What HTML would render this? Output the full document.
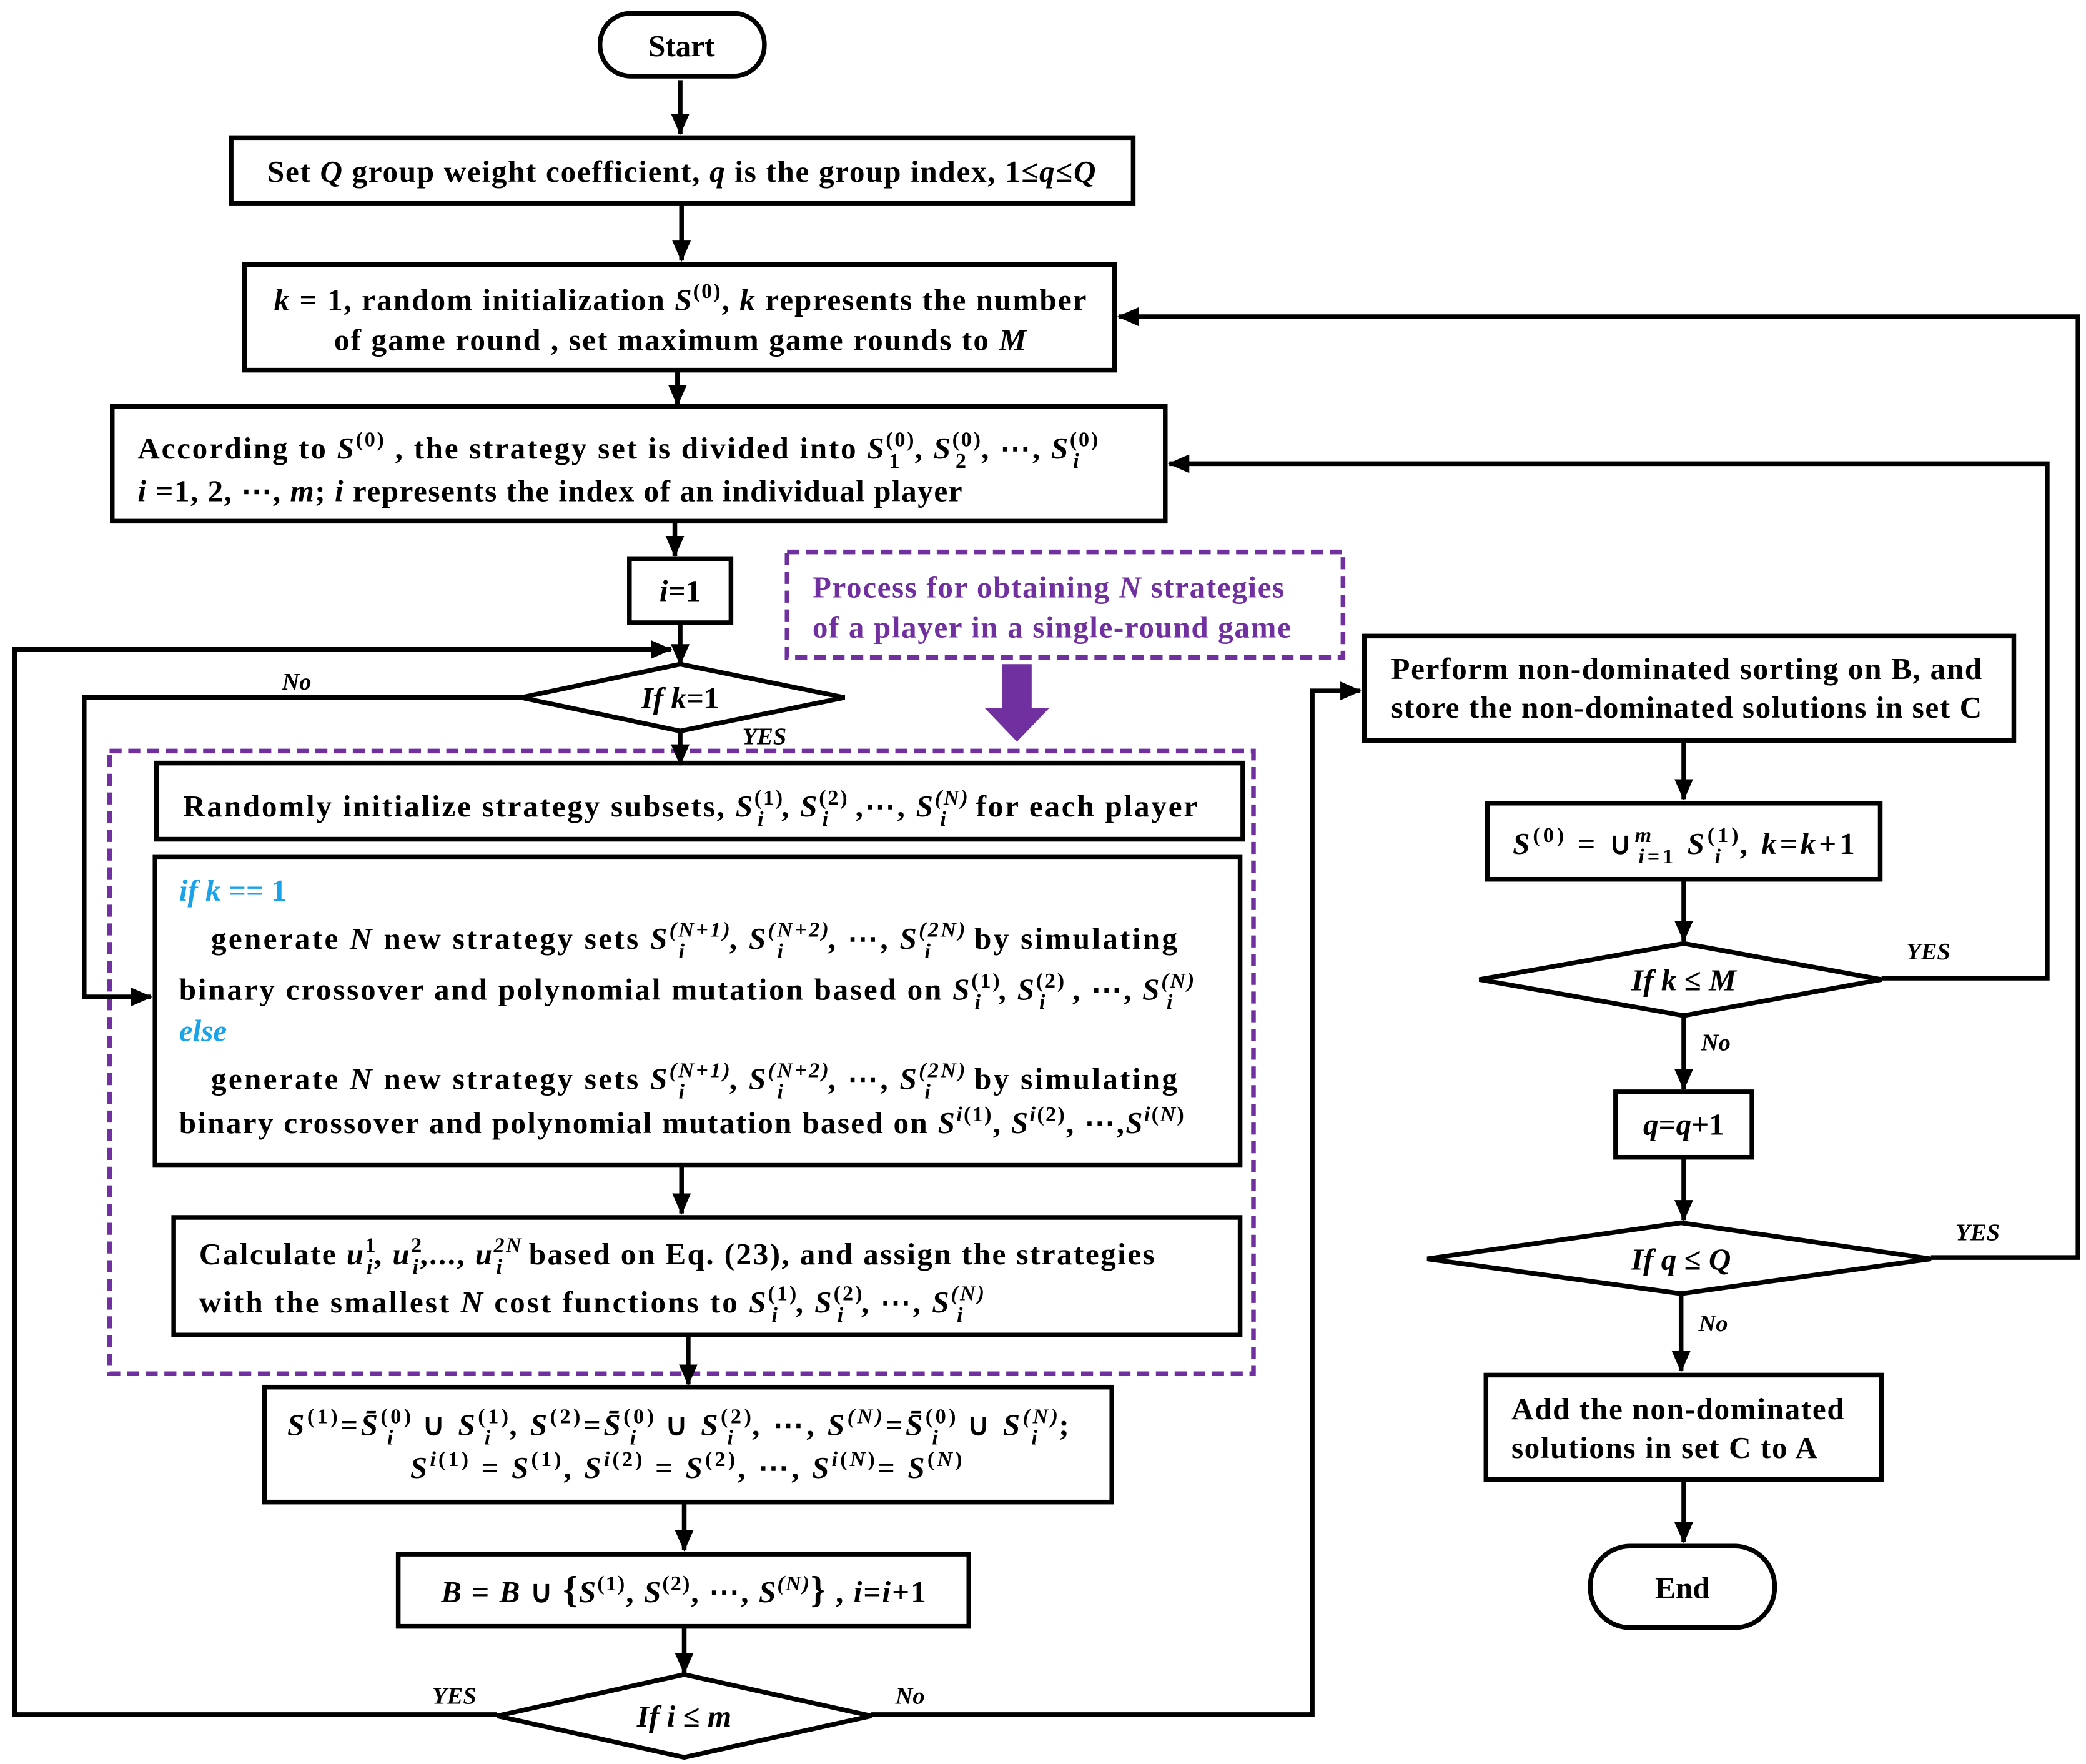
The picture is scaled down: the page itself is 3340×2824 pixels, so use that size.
<!DOCTYPE html>
<html><head><meta charset="utf-8"><style>
html,body{margin:0;padding:0;background:#fff}
svg{display:block}
text{font-family:"Liberation Serif",serif;font-weight:bold;font-size:23px;fill:#000}
.i{font-style:italic}
.b{fill:#1aa3e8;font-style:italic}
.p{fill:#7030a0}
.s{font-size:16px}
.lab{font-size:18px;font-style:italic}
</style></head><body>
<svg width="3340" height="2824" viewBox="0 0 1561 1320" preserveAspectRatio="none" xmlns="http://www.w3.org/2000/svg">
<defs><marker id="a2" markerWidth="16" markerHeight="14" refX="15" refY="7" orient="auto" markerUnits="userSpaceOnUse"><path d="M0,0 L16,7 L0,14 z" fill="#000"/></marker></defs>
<g fill="none" stroke="#000" stroke-width="3.5">
<rect x="449" y="10" width="123" height="47" rx="23"/>
<rect x="173" y="103" width="675" height="49"/>
<rect x="183" y="198" width="651" height="79"/>
<rect x="84" y="304" width="788" height="86"/>
<rect x="471" y="418" width="76" height="48"/>
<polygon points="390,522 509,497 632,522 509,547"/>
<rect x="117" y="571" width="813" height="57"/>
<rect x="116" y="641" width="812" height="231"/>
<rect x="130" y="911" width="798" height="88"/>
<rect x="198" y="1038" width="634" height="86"/>
<rect x="298" y="1163" width="427" height="54"/>
<polygon points="372,1284 512,1253 652,1284 512,1315"/>
<rect x="1021" y="476" width="486" height="78"/>
<rect x="1113" y="601" width="294" height="57"/>
<polygon points="1107,733 1260,706 1408,733 1260,760"/>
<rect x="1209" y="817" width="102" height="49"/>
<polygon points="1068,942 1258,915 1445,942 1258,968"/>
<rect x="1112" y="1029" width="296" height="78"/>
<rect x="1190" y="1157" width="138" height="61" rx="30"/>
</g>
<g fill="none" stroke="#7030a0" stroke-width="3.5" stroke-dasharray="9,5">
<rect x="589" y="413" width="416" height="79"/>
<rect x="82" y="562" width="856" height="466"/>
</g>
<polygon points="750,497 772,497 772,530 785,530 761,555 737,530 750,530" fill="#7030a0"/>
<g fill="none" stroke="#000" stroke-width="3.5" marker-end="url(#a2)">
<path d="M509,60 V100"/><path d="M510,152 V195"/><path d="M507,277 V303"/>
<path d="M505,390 V416"/><path d="M509,466 V497"/>
<path d="M390,522 H63 V746 H113"/>
<path d="M509,547 V572"/><path d="M510,872 V908"/><path d="M515,999 V1036"/>
<path d="M512,1124 V1160"/><path d="M512,1217 V1252"/>
<path d="M372,1283 H11 V486 H502"/>
<path d="M652,1283 H982 V517 H1018"/>
<path d="M1260,554 V598"/><path d="M1260,658 V704"/>
<path d="M1408,732 H1532 V347 H875"/>
<path d="M1260,760 V815"/><path d="M1260,866 V913"/>
<path d="M1445,941 H1555 V237 H837"/>
<path d="M1258,968 V1026"/><path d="M1260,1107 V1154"/>
</g>
<text x="510" y="42" text-anchor="middle">Start</text>
<text x="200" y="136" textLength="620" lengthAdjust="spacing">Set <tspan class="i">Q</tspan> group weight coefficient, <tspan class="i">q</tspan> is the group index, 1≤<tspan class="i">q</tspan>≤<tspan class="i">Q</tspan></text>
<text x="205" y="232" textLength="608" lengthAdjust="spacing"><tspan class="i">k</tspan> = 1, random initialization <tspan class="i">S</tspan><tspan class="s" dy="-9">(0)</tspan><tspan dy="9">,  </tspan><tspan class="i">k</tspan> represents the number</text>
<text x="250" y="262" textLength="518" lengthAdjust="spacing">of  game round , set maximum game rounds to <tspan class="i">M</tspan></text>
<text x="103" y="343" textLength="720" lengthAdjust="spacing">According to <tspan class="i">S</tspan><tspan class="s" dy="-9">(0)</tspan><tspan dy="9"> , the strategy set is divided into  </tspan><tspan class="i">S</tspan><tspan class="s" dy="-9">(0)</tspan><tspan class="s" dx="-20" dy="16">1</tspan><tspan dx="10" dy="-7">,  </tspan><tspan class="i">S</tspan><tspan class="s" dy="-9">(0)</tspan><tspan class="s" dx="-20" dy="16">2</tspan><tspan dx="10" dy="-7">, ⋯,  </tspan><tspan class="i">S</tspan><tspan class="s" dy="-9">(0)</tspan><tspan class="s i" dx="-20" dy="16">i</tspan></text>
<text x="103" y="375" textLength="617" lengthAdjust="spacing"><tspan class="i">i</tspan> =1, 2, ⋯, <tspan class="i">m</tspan>; <tspan class="i">i</tspan> represents the index of an individual player</text>
<text x="509" y="450" text-anchor="middle"><tspan class="i">i</tspan>=1</text>
<text x="509" y="530" text-anchor="middle" class="i">If <tspan>k</tspan><tspan font-style="normal">=1</tspan></text>
<text x="222" y="516" class="lab" text-anchor="middle">No</text>
<text x="572" y="557" class="lab" text-anchor="middle">YES</text>
<text x="608" y="447" class="p" textLength="353" lengthAdjust="spacing">Process for obtaining <tspan class="i">N</tspan> strategies</text>
<text x="608" y="477" class="p" textLength="358" lengthAdjust="spacing">of a player in a single-round game</text>
<text x="137" y="611" textLength="759" lengthAdjust="spacing">Randomly initialize strategy subsets,  <tspan class="i">S</tspan><tspan class="s" dy="-9">(1)</tspan><tspan class="s i" dx="-20" dy="16">i</tspan><tspan dx="12" dy="-7">,  </tspan><tspan class="i">S</tspan><tspan class="s" dy="-9">(2)</tspan><tspan class="s i" dx="-20" dy="16">i</tspan><tspan dx="12" dy="-7"> ,⋯,  </tspan><tspan class="i">S</tspan><tspan class="s i" dy="-9">(N)</tspan><tspan class="s i" dx="-22" dy="16">i</tspan><tspan dx="14" dy="-7">  for each player</tspan></text>
<text x="134" y="674" class="b">if  k <tspan font-style="normal">== 1</tspan></text>
<text x="158" y="710" textLength="723" lengthAdjust="spacing">generate <tspan class="i">N</tspan> new strategy sets  <tspan class="i">S</tspan><tspan class="s i" dy="-9">(N+1)</tspan><tspan class="s i" dx="-40" dy="16">i</tspan><tspan dx="32" dy="-7">,  </tspan><tspan class="i">S</tspan><tspan class="s i" dy="-9">(N+2)</tspan><tspan class="s i" dx="-40" dy="16">i</tspan><tspan dx="32" dy="-7">, ⋯,  </tspan><tspan class="i">S</tspan><tspan class="s i" dy="-9">(2N)</tspan><tspan class="s i" dx="-32" dy="16">i</tspan><tspan dx="24" dy="-7">  by simulating</tspan></text>
<text x="134" y="748" textLength="761" lengthAdjust="spacing">binary crossover and polynomial mutation based on  <tspan class="i">S</tspan><tspan class="s" dy="-9">(1)</tspan><tspan class="s i" dx="-20" dy="16">i</tspan><tspan dx="12" dy="-7">,  </tspan><tspan class="i">S</tspan><tspan class="s" dy="-9">(2)</tspan><tspan class="s i" dx="-20" dy="16">i</tspan><tspan dx="12" dy="-7"> , ⋯,  </tspan><tspan class="i">S</tspan><tspan class="s i" dy="-9">(N)</tspan><tspan class="s i" dx="-22" dy="16">i</tspan></text>
<text x="134" y="779" class="b">else</text>
<text x="158" y="815" textLength="723" lengthAdjust="spacing">generate <tspan class="i">N</tspan> new strategy sets  <tspan class="i">S</tspan><tspan class="s i" dy="-9">(N+1)</tspan><tspan class="s i" dx="-40" dy="16">i</tspan><tspan dx="32" dy="-7">,  </tspan><tspan class="i">S</tspan><tspan class="s i" dy="-9">(N+2)</tspan><tspan class="s i" dx="-40" dy="16">i</tspan><tspan dx="32" dy="-7">, ⋯,  </tspan><tspan class="i">S</tspan><tspan class="s i" dy="-9">(2N)</tspan><tspan class="s i" dx="-32" dy="16">i</tspan><tspan dx="24" dy="-7">  by simulating</tspan></text>
<text x="134" y="848" textLength="752" lengthAdjust="spacing">binary crossover and polynomial mutation based on <tspan class="i">S</tspan><tspan class="s" dy="-9"><tspan class="i">i</tspan>(1)</tspan><tspan dy="9">, </tspan><tspan class="i">S</tspan><tspan class="s" dy="-9"><tspan class="i">i</tspan>(2)</tspan><tspan dy="9">, ⋯,</tspan><tspan class="i">S</tspan><tspan class="s" dy="-9"><tspan class="i">i</tspan>(<tspan class="i">N</tspan>)</tspan></text>
<text x="149" y="946" textLength="715" lengthAdjust="spacing">Calculate <tspan class="i">u</tspan><tspan class="s" dy="-9">1</tspan><tspan class="s i" dx="-8" dy="16">i</tspan><tspan dy="-7">, </tspan><tspan class="i">u</tspan><tspan class="s" dy="-9">2</tspan><tspan class="s i" dx="-8" dy="16">i</tspan><tspan dy="-7">,..., </tspan><tspan class="i">u</tspan><tspan class="s i" dy="-9">2N</tspan><tspan class="s i" dx="-20" dy="16">i</tspan><tspan dx="12" dy="-7">  based on Eq. (23), and assign the strategies</tspan></text>
<text x="149" y="982" textLength="589" lengthAdjust="spacing">with the smallest <tspan class="i">N</tspan> cost functions to  <tspan class="i">S</tspan><tspan class="s" dy="-9">(1)</tspan><tspan class="s i" dx="-20" dy="16">i</tspan><tspan dx="12" dy="-7">,  </tspan><tspan class="i">S</tspan><tspan class="s" dy="-9">(2)</tspan><tspan class="s i" dx="-20" dy="16">i</tspan><tspan dx="12" dy="-7">, ⋯,  </tspan><tspan class="i">S</tspan><tspan class="s i" dy="-9">(N)</tspan><tspan class="s i" dx="-22" dy="16">i</tspan></text>
<text x="215" y="1074" textLength="585" lengthAdjust="spacing"><tspan class="i">S</tspan><tspan class="s" dy="-9">(1)</tspan><tspan dy="9">=</tspan><tspan class="i">S̄</tspan><tspan class="s" dy="-9">(0)</tspan><tspan class="s i" dx="-20" dy="16">i</tspan><tspan dx="12" dy="-7"> ∪  </tspan><tspan class="i">S</tspan><tspan class="s" dy="-9">(1)</tspan><tspan class="s i" dx="-20" dy="16">i</tspan><tspan dx="12" dy="-7">, </tspan><tspan class="i">S</tspan><tspan class="s" dy="-9">(2)</tspan><tspan dy="9">=</tspan><tspan class="i">S̄</tspan><tspan class="s" dy="-9">(0)</tspan><tspan class="s i" dx="-20" dy="16">i</tspan><tspan dx="12" dy="-7"> ∪  </tspan><tspan class="i">S</tspan><tspan class="s" dy="-9">(2)</tspan><tspan class="s i" dx="-20" dy="16">i</tspan><tspan dx="12" dy="-7">, ⋯, </tspan><tspan class="i">S</tspan><tspan class="s i" dy="-9">(N)</tspan><tspan dy="9">=</tspan><tspan class="i">S̄</tspan><tspan class="s" dy="-9">(0)</tspan><tspan class="s i" dx="-20" dy="16">i</tspan><tspan dx="12" dy="-7"> ∪  </tspan><tspan class="i">S</tspan><tspan class="s i" dy="-9">(N)</tspan><tspan class="s i" dx="-22" dy="16">i</tspan><tspan dx="14" dy="-7">;</tspan></text>
<text x="307" y="1106" textLength="413" lengthAdjust="spacing"><tspan class="i">S</tspan><tspan class="s" dy="-9"><tspan class="i">i</tspan>(1)</tspan><tspan dy="9"> = </tspan><tspan class="i">S</tspan><tspan class="s" dy="-9">(1)</tspan><tspan dy="9">, </tspan><tspan class="i">S</tspan><tspan class="s" dy="-9"><tspan class="i">i</tspan>(2)</tspan><tspan dy="9"> = </tspan><tspan class="i">S</tspan><tspan class="s" dy="-9">(2)</tspan><tspan dy="9">, ⋯, </tspan><tspan class="i">S</tspan><tspan class="s" dy="-9"><tspan class="i">i</tspan>(<tspan class="i">N</tspan>)</tspan><tspan dy="9">= </tspan><tspan class="i">S</tspan><tspan class="s" dy="-9">(<tspan class="i">N</tspan>)</tspan></text>
<text x="330" y="1199" textLength="363" lengthAdjust="spacing"><tspan class="i">B</tspan>  = <tspan class="i">B</tspan> ∪ <tspan font-size="28">{</tspan><tspan class="i">S</tspan><tspan class="s" dy="-9">(1)</tspan><tspan dy="9">, </tspan><tspan class="i">S</tspan><tspan class="s" dy="-9">(2)</tspan><tspan dy="9">, ⋯, </tspan><tspan class="i">S</tspan><tspan class="s i" dy="-9">(N)</tspan><tspan dy="9" font-size="28">}</tspan> , <tspan class="i">i</tspan>=<tspan class="i">i</tspan>+1</text>
<text x="512" y="1292" text-anchor="middle" class="i">If  i <tspan font-style="normal">≤</tspan> m</text>
<text x="340" y="1275" class="lab" text-anchor="middle">YES</text>
<text x="681" y="1275" class="lab" text-anchor="middle">No</text>
<text x="1041" y="508" textLength="442" lengthAdjust="spacing">Perform non-dominated sorting on B, and</text>
<text x="1041" y="537" textLength="442" lengthAdjust="spacing">store the non-dominated solutions in set C</text>
<text x="1132" y="639" textLength="256" lengthAdjust="spacing"><tspan class="i">S</tspan><tspan class="s" dy="-9">(0)</tspan><tspan dy="9"> = ∪</tspan><tspan class="s i" dy="-9">m</tspan><tspan class="s" dx="-12" dy="16"><tspan class="i">i</tspan>=1</tspan><tspan dy="-7"> </tspan><tspan class="i">S</tspan><tspan class="s" dy="-9">(1)</tspan><tspan class="s i" dx="-20" dy="16">i</tspan><tspan dx="12" dy="-7">,   </tspan><tspan class="i">k</tspan>=<tspan class="i">k</tspan>+1</text>
<text x="1260" y="741" text-anchor="middle" class="i">If  k <tspan font-style="normal">≤</tspan> M</text>
<text x="1443" y="718" class="lab" text-anchor="middle">YES</text>
<text x="1284" y="786" class="lab" text-anchor="middle">No</text>
<text x="1260" y="849" text-anchor="middle" class="i">q<tspan font-style="normal">=</tspan>q<tspan font-style="normal">+1</tspan></text>
<text x="1258" y="950" text-anchor="middle" class="i">If    q <tspan font-style="normal">≤</tspan> Q</text>
<text x="1480" y="928" class="lab" text-anchor="middle">YES</text>
<text x="1282" y="996" class="lab" text-anchor="middle">No</text>
<text x="1131" y="1062" textLength="249" lengthAdjust="spacing">Add the non-dominated</text>
<text x="1131" y="1091" textLength="229" lengthAdjust="spacing">solutions in set C to A</text>
<text x="1259" y="1196" text-anchor="middle">End</text>
</svg>
</body></html>
